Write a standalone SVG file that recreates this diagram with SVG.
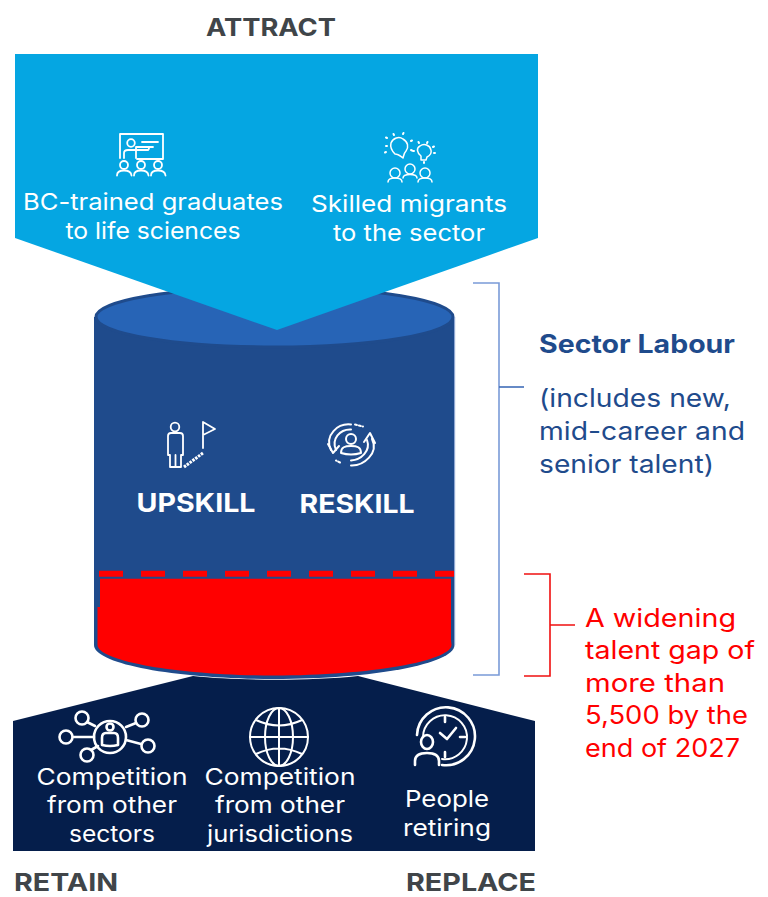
<svg xmlns="http://www.w3.org/2000/svg" width="768" height="897" viewBox="0 0 768 897">
<style>
text{font-family:"Inter","Noto Sans","Liberation Sans",sans-serif}
.h{font-size:24.500px;font-weight:700;fill:#404549}
.w{font-size:23px;fill:#fff;text-anchor:middle}
.b{font-size:26px;font-weight:700;fill:#fff;text-anchor:middle}
.blue{font-size:25px;fill:#1f4b8c}
.red{font-size:25px;fill:#ff0000}
.i{fill:none;stroke:#fff;stroke-width:1.800;stroke-linecap:round;stroke-linejoin:round}
.i3{fill:none;stroke:#fff;stroke-width:2.600;stroke-linecap:round;stroke-linejoin:round}
.lb{fill:none;stroke:#7a9bd8;stroke-width:1.600}
</style>
<g id="cylinder">
<path d="M94 317V645C94 664 175 679 274 679S454.500 664 454.500 645V317Z" fill="#1f4b8c"/>
<ellipse cx="274.500" cy="317" rx="178.500" ry="30" fill="#2764b6" stroke="#1f4b8c" stroke-width="3"/>
<path d="M454.700 317V645" stroke="#8fa8d6" stroke-width="1" fill="none"/>
<path d="M99 573.700H454" stroke="#ff0000" stroke-width="6" stroke-dasharray="24 18" fill="none"/>
<path d="M100 578.700H451V640L451.500 645C451 661 370 675.500 274 675.500S98 661 97.500 645V607H100Z" fill="#ff0000"/>
</g>
<g id="attract">
<path d="M15 54H538V238L277 330L15 238Z" fill="#05a6e2"/>
<g class="i">
<path d="M120 158V134H163V159H137"/>
<circle cx="131" cy="143" r="3.800"/>
<path d="M124 158V153Q124 150 128 150H148Q150 148 148 147H136V158"/>
<path d="M142 142H158M142 147H153"/>
<circle cx="124" cy="165" r="4"/><path d="M117 175.500Q117 170.500 124 170.500T131.500 175.500"/>
<circle cx="141" cy="165" r="4"/><path d="M134 175.500Q134 170.500 141 170.500T148.500 175.500"/>
<circle cx="158" cy="165" r="4"/><path d="M151 175.500Q151 170.500 158 170.500T165.500 175.500"/>
</g>
<g class="i" style="stroke-width:1.500">
<path d="M403 158C399 155 398 154 395 154C391 150 390 147 391 143C393 138 399 136 403 139C408 142 409 147 406 151C404 153 404 155 403 158Z"/>
<path d="M421 160L421 156C417 153 416 148 420 146C424 143 430 145 431 150C432 154 429 156 427 157L426 160Z"/>
<path d="M394 135l-.5-1M403 134l.5-1M387 146h-1M387 138l-1-.5M411 141l1-.5M411 150l1 .5M386 152l-1 .5M419 143l-.5-1M427 143l.5-1M433 147l1-.5M434 153h1M414 151h-1M424 162v1" stroke-width="2"/>
<circle cx="395" cy="173" r="5"/><path d="M388 182Q388 178 395 178T402 182"/>
<circle cx="410" cy="169" r="5"/><path d="M403 178Q403 174.500 410 174.500T417 178"/>
<circle cx="425" cy="173" r="5"/><path d="M418 182Q418 178 425 178T432 182"/>
</g>
<text class="w" x="153" y="210" textLength="260" lengthAdjust="spacingAndGlyphs">BC-trained graduates</text>
<text class="w" x="153" y="239" textLength="175" lengthAdjust="spacingAndGlyphs">to life sciences</text>
<text class="w" x="409" y="212" textLength="196" lengthAdjust="spacingAndGlyphs">Skilled migrants</text>
<text class="w" x="409" y="241" textLength="152" lengthAdjust="spacingAndGlyphs">to the sector</text>
</g>
<g id="upskill">
<g class="i">
<circle cx="175" cy="427" r="4.300"/>
<path d="M170 467V455H168V436Q168 433 171 433H180Q183 433 183 436V455H181V467ZM175.500 455V467"/>
<path d="M203 448V422L215 429L203 435"/>
<path d="M184 467L203 453" stroke-width="3" stroke-dasharray="2.500 1" stroke-linecap="butt" style="stroke-width:3;stroke-linecap:butt"/>
</g>
<text class="b" x="196" y="512" textLength="119" lengthAdjust="spacingAndGlyphs">UPSKILL</text>
</g>
<g id="reskill">
<g class="i" style="stroke-width:2">
<circle cx="351" cy="439" r="5"/>
<path d="M341 453C341 447 345 446 351 446S361 447 361 453Q351 456 341 453Z"/>
<path d="M331 450C324 435 338 423 351 424.500"/>
<path d="M336 450C331 439 340 429 351 429.500"/>
<path d="M328 444L333 453L339 446"/>
<path d="M372 439C379 453 364 466 351 465.500"/>
<path d="M367 440C371 451 361 460 351 460.500"/>
<path d="M364 442L370 433L375 443"/>
<path d="M355 424.500l8 2M340 462.500l-4-2" stroke-dasharray="2 2"/>
</g>
<text class="b" x="357" y="513" textLength="115" lengthAdjust="spacingAndGlyphs">RESKILL</text>
</g>
<g id="outflow">
<path d="M13 721L193 676C240 681 310 681 358 676L535 721V851H13Z" fill="#051e4b"/>
<g class="i3">
<circle cx="110" cy="737" r="16"/>
<circle cx="110" cy="727" r="3.500"/>
<path d="M102 745V738Q102 733 106 733H114Q118 733 118 738V745Q110 747 102 745Z"/>
<circle cx="82" cy="718" r="6.500"/><path d="M87 722L95 726"/>
<circle cx="66" cy="737" r="6.500"/><path d="M73 737H94"/>
<circle cx="87" cy="755" r="6.500"/><path d="M91 750L98 746"/>
<circle cx="142" cy="720" r="6.500"/><path d="M136 723L126 727"/>
<circle cx="148" cy="746" r="6.500"/><path d="M141 744L126 740"/>
</g>
<g class="i3" style="stroke-width:2">
<circle cx="279" cy="737" r="29"/>
<ellipse cx="279" cy="737" rx="14" ry="29"/>
<path d="M279 708V766M250 737H308M256 720Q279 731 302 720M256 754Q279 743 302 754"/>
</g>
<g class="i3">
<path d="M417 735A29 29 0 1 1 442 765"/>
<path d="M423 737A22 22 0 1 1 442 759" style="stroke-width:2"/>
<path d="M445 717V722M465 737H460M445 752V757"/>
<path d="M440 733L447 739L456 728"/>
<ellipse cx="427" cy="742" rx="6" ry="7"/>
<path d="M415 765V761Q415 753 427 753T439 761V765"/>
</g>
<text class="w" x="112" y="785" textLength="151" lengthAdjust="spacingAndGlyphs">Competition</text>
<text class="w" x="112" y="813" textLength="130" lengthAdjust="spacingAndGlyphs">from other</text>
<text class="w" x="112" y="842" textLength="86" lengthAdjust="spacingAndGlyphs">sectors</text>
<text class="w" x="280" y="785" textLength="151" lengthAdjust="spacingAndGlyphs">Competition</text>
<text class="w" x="280" y="813" textLength="130" lengthAdjust="spacingAndGlyphs">from other</text>
<text class="w" x="280" y="842" textLength="146" lengthAdjust="spacingAndGlyphs">jurisdictions</text>
<text class="w" x="447" y="807" textLength="84" lengthAdjust="spacingAndGlyphs">People</text>
<text class="w" x="447" y="836" textLength="88" lengthAdjust="spacingAndGlyphs">retiring</text>
</g>
<g id="labels">
<text class="h" x="206" y="36" textLength="130" lengthAdjust="spacingAndGlyphs">ATTRACT</text>
<text class="h" x="14" y="890.500" textLength="104" lengthAdjust="spacingAndGlyphs">RETAIN</text>
<text class="h" x="406" y="891" textLength="130" lengthAdjust="spacingAndGlyphs">REPLACE</text>
</g>
<g id="sector-labour">
<text class="blue" x="539" y="353" font-weight="700" textLength="196" lengthAdjust="spacingAndGlyphs">Sector Labour</text>
<text class="blue" x="539" y="407" textLength="192" lengthAdjust="spacingAndGlyphs">(includes new,</text>
<text class="blue" x="539" y="440" textLength="206" lengthAdjust="spacingAndGlyphs">mid-career and</text>
<text class="blue" x="539" y="473" textLength="175" lengthAdjust="spacingAndGlyphs">senior talent)</text>
</g>
<g id="talent-gap">
<text class="red" x="585" y="627" textLength="151" lengthAdjust="spacingAndGlyphs">A widening</text>
<text class="red" x="585" y="659" textLength="170" lengthAdjust="spacingAndGlyphs">talent gap of</text>
<text class="red" x="585" y="692" textLength="140" lengthAdjust="spacingAndGlyphs">more than</text>
<text class="red" x="585" y="724" textLength="163" lengthAdjust="spacingAndGlyphs">5,500 by the</text>
<text class="red" x="585" y="757" textLength="155" lengthAdjust="spacingAndGlyphs">end of 2027</text>
</g>
<g id="connectors">
<path class="lb" d="M473 283H499V675H473"/>
<path d="M499 387H524" stroke="#3f6cb8" stroke-width="1.600" fill="none"/>
<path d="M524 574H550V676H524M550 625H575" stroke="#f01010" stroke-width="1.600" fill="none"/>
</g>
</svg>
